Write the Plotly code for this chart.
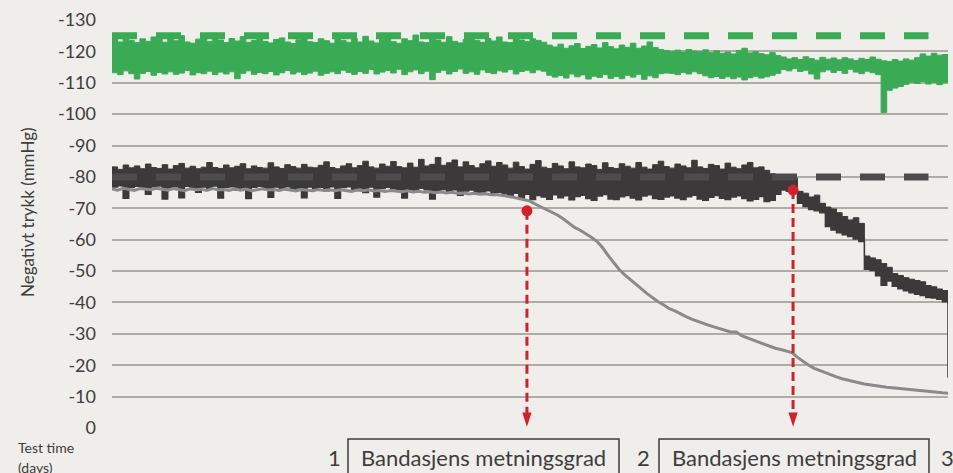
import plotly.graph_objects as go

# ---------------- data ----------------
days = [round(i * 0.02, 2) for i in range(151)]

green_top = [
    -124.5, -123.0, -124.8, -123.5, -122.8, -124.0, -123.2, -124.6, -123.8, -122.9,
    -124.2, -123.4, -125.0, -123.0, -122.6, -123.9, -124.4, -123.1, -125.8, -123.6,
    -122.8, -124.1, -123.3, -124.7, -122.9, -123.5, -124.9, -123.2, -122.7, -123.8,
    -124.3, -123.0, -122.5, -123.7, -124.6, -123.1, -122.8, -124.0, -123.4, -122.6,
    -125.0, -123.5, -122.9, -124.2, -123.0, -124.8, -123.3, -122.7, -123.9, -124.5,
    -123.1, -122.6, -124.0, -123.4, -125.2, -123.0, -122.8, -124.3, -123.6, -122.9,
    -124.7, -123.2, -122.7, -123.8, -125.3, -123.5, -122.9, -124.1, -123.3, -124.6,
    -123.0, -122.8, -124.4, -123.6, -123.1, -124.0, -123.5, -122.9, -122.0, -121.4,
    -122.3, -121.0, -121.8, -122.5, -120.9, -121.6, -122.2, -121.1, -122.8, -121.5,
    -120.8, -122.0, -121.3, -122.6, -121.0, -121.7, -123.0, -121.2, -120.6, -120.3,
    -120.0, -120.4, -119.8, -120.6, -120.1, -119.9, -120.5, -119.6, -120.2, -119.4,
    -119.8, -119.2, -120.3, -121.0, -119.5, -119.9, -119.3, -118.9, -119.6, -118.7,
    -118.2, -117.6, -118.0, -117.4, -118.3, -117.7, -117.2, -118.1, -117.5, -117.9,
    -117.3, -118.0, -117.6, -117.1, -117.8, -117.4, -118.2, -117.5, -117.0, -116.8,
    -117.4, -116.9, -117.6, -117.2, -118.0, -119.2, -118.5, -119.4, -118.8, -119.0, -118.2,
]
green_bottom = [
    -113.2, -112.6, -113.8, -112.9, -111.2, -113.0, -113.6, -112.4, -113.3, -112.8,
    -113.5, -112.7, -113.1, -113.9, -112.5, -113.2, -112.9, -113.7, -112.6, -113.4,
    -112.8, -113.5, -111.3, -113.0, -113.8, -112.7, -113.3, -112.9, -113.6, -112.5,
    -113.2, -113.9, -112.8, -113.4, -112.6, -113.1, -113.7, -112.4, -113.0, -113.5,
    -112.9, -114.0, -113.3, -112.7, -113.6, -113.0, -114.2, -112.8, -113.4, -113.9,
    -113.1, -114.3, -112.6, -113.5, -114.1, -112.9, -113.7, -111.0, -113.3, -114.0,
    -112.8, -113.6, -114.4, -113.0, -113.5, -112.7, -114.1, -113.3, -112.9, -113.8,
    -113.4, -114.2, -112.8, -113.6, -114.0, -113.2, -114.1, -113.7, -112.4, -111.8,
    -112.3, -111.5, -112.8, -111.9, -112.5, -111.2, -112.1, -111.7, -112.6, -111.4,
    -112.0, -111.3, -112.4, -111.8, -112.7, -111.1, -112.2, -111.6, -112.9, -113.1,
    -113.0, -112.6, -113.3, -112.8, -113.5, -112.9, -112.2, -111.6, -112.0, -111.4,
    -111.9, -111.3, -111.8, -110.9, -111.6, -112.1, -111.5, -111.9, -112.4, -113.0,
    -114.2, -113.8, -114.5, -113.6, -114.0, -112.8, -111.2, -113.5, -114.1, -113.3,
    -113.9, -113.0, -114.3, -113.4, -112.9, -113.7, -113.2, -112.6, -100.5, -107.6,
    -108.3, -108.8, -109.5, -110.2, -109.8, -110.4, -109.6, -110.1, -109.4, -110.0, -111.0,
]
dark_top = [
    -83.2, -82.4, -83.8, -82.9, -83.5, -82.6, -84.1, -83.0, -82.7, -83.9,
    -82.5, -83.6, -84.3, -82.8, -83.4, -82.6, -83.1, -84.6, -83.0, -82.7,
    -83.8, -82.9, -83.4, -84.2, -82.6, -83.5, -83.0, -82.8, -84.5, -83.2,
    -82.7, -83.9, -83.3, -82.8, -84.0, -83.1, -82.9, -83.7, -84.8, -83.0,
    -82.6, -83.5, -84.2, -82.9, -83.6, -85.0, -83.2, -82.8, -84.1, -83.4,
    -84.9, -83.3, -82.9, -84.4, -83.1, -85.6, -83.5, -84.0, -86.2, -83.7,
    -84.5, -85.4, -83.2, -84.8, -83.6, -82.9, -84.2, -85.1, -83.4, -84.6,
    -83.8, -82.8, -84.7, -83.3, -82.5, -84.0, -85.2, -83.1, -82.7, -84.3,
    -83.5, -82.6, -84.8, -83.2, -82.9, -84.1, -83.6, -82.4, -84.5, -83.0,
    -82.7, -84.2, -83.4, -82.8, -84.6, -83.1, -82.5, -83.9, -85.0, -83.3,
    -82.8, -84.1, -83.5, -82.9, -85.3, -83.2, -82.7, -84.0, -83.6, -82.5,
    -84.4, -83.1, -82.6, -83.8, -84.6, -82.9, -83.2, -82.1, -81.0, -80.7,
    -80.5, -80.2, -79.6, -75.4, -74.8, -73.6, -74.2, -71.6, -70.4, -69.8,
    -68.6, -67.4, -66.3, -67.0, -65.2, -54.8, -54.2, -53.6, -52.4, -51.2,
    -49.2, -48.6, -47.9, -47.4, -47.0, -46.6, -45.4, -45.0, -44.3, -43.8, -39.5,
]
dark_bottom = [
    -76.8, -77.2, -73.2, -76.6, -77.0, -76.3, -74.5, -76.9, -77.1, -73.0,
    -76.5, -76.9, -73.4, -77.0, -76.4, -75.1, -76.8, -76.2, -77.1, -73.3,
    -76.6, -76.9, -75.8, -76.3, -73.1, -76.7, -77.0, -76.1, -73.5, -76.8,
    -76.4, -76.9, -75.9, -76.5, -73.4, -76.8, -76.2, -76.7, -75.6, -76.9,
    -73.2, -76.6, -76.9, -76.1, -76.5, -75.0, -76.8, -73.6, -76.3, -76.7,
    -76.2, -75.8, -73.3, -76.1, -75.5, -76.4, -75.9, -73.0, -75.6, -76.0,
    -75.3, -75.9, -74.2, -75.5, -75.8, -74.9, -75.2, -75.6, -74.4, -75.1,
    -74.6, -73.9, -74.8, -73.2, -74.5, -72.8, -74.1, -73.6, -72.9, -74.3,
    -73.4, -74.0, -72.7, -73.8, -74.2, -73.1, -72.6, -73.9, -74.4, -73.0,
    -72.8, -73.7, -74.1, -73.3, -72.7, -73.9, -74.3, -73.1, -72.9, -73.6,
    -74.0, -73.3, -72.8, -73.7, -74.2, -73.0, -72.6, -73.5, -74.1, -73.2,
    -72.8, -73.6, -74.0, -73.1, -72.4, -72.9, -73.8, -72.2, -72.6, -74.5,
    -75.8, -75.4, -75.0, -71.6, -70.6, -69.6, -69.2, -68.6, -64.2, -63.1,
    -62.2, -61.6, -61.0, -60.2, -59.4, -50.6, -50.2, -48.5, -45.5, -46.8,
    -45.2, -44.4, -43.7, -43.1, -42.6, -42.2, -41.6, -41.4, -41.0, -40.2, -16.0,
]
grey_line = [
    -76.2, -75.8, -76.4, -76.0, -75.7, -76.3, -76.1, -75.9, -76.4, -76.0,
    -75.8, -76.3, -76.0, -75.6, -76.2, -75.9, -76.1, -75.7, -76.3, -75.9,
    -76.0, -75.7, -76.2, -75.8, -76.1, -75.6, -75.9, -76.2, -75.8, -76.0,
    -75.7, -76.1, -75.8, -75.5, -76.0, -75.8, -75.6, -76.0, -75.7, -75.9,
    -75.6, -75.9, -75.7, -75.4, -75.8, -75.6, -75.9, -75.5, -75.7, -75.4,
    -75.7, -75.5, -75.3, -75.6, -75.2, -75.4, -75.1, -75.3, -75.0, -75.2,
    -74.9, -75.1, -74.8, -74.9, -74.6, -74.8, -74.5, -74.6, -74.3, -74.4,
    -74.0, -73.8, -73.5, -73.1, -72.8, -72.3, -71.3, -70.4, -69.6, -68.7,
    -67.8, -66.6, -65.2, -63.9, -63.0, -62.0, -60.8, -59.5, -57.5, -55.0,
    -52.8, -50.5, -48.8, -47.2, -45.8, -44.3, -42.8, -41.4, -40.2, -39.2,
    -38.0, -37.3, -36.3, -35.5, -34.7, -34.0, -33.4, -32.8, -32.2, -31.6,
    -31.0, -30.6, -30.6, -29.4, -28.7, -28.0, -27.3, -26.6, -26.0, -25.4,
    -25.0, -24.5, -24.0, -22.5, -21.2, -20.0, -19.0, -18.3, -17.5, -16.9,
    -16.3, -15.7, -15.2, -14.8, -14.4, -14.0, -13.7, -13.4, -13.2, -13.0,
    -12.8, -12.6, -12.4, -12.2, -12.0, -11.8, -11.6, -11.5, -11.3, -11.2, -11.1,
]

target_green = -125
target_dark = -80
target_days = [0.0, 2.93]

saturation_days = [1.489, 2.444]
saturation_values = [-69.2, -75.8]
arrow_tip = -0.4

y_ticks = [-130, -120, -110, -100, -90, -80, -70, -60, -50, -40, -30, -20, -10, 0]
y_ticktext = ["-130", "-120", "-110", "-100", "-90", "-80", "-70", "-60",
              "-50", "-40", "-30", "-20", "-10", "0"]
day_labels = ["1", "2", "3"]
box_label = "Bandasjens metningsgrad"

# ---------------- styling ----------------
GREEN = "#3aab55"
DARK = "#3b393a"
DARK_DASH = "#4d4c4d"
GREY = "#8a8a8a"
RED = "#d4202a"
BG = "#f0eeea"
TEXT = "#3d3d3d"
FONT = "Lato, 'Noto Sans', sans-serif"

W, H = 953, 473
L, R, T, B = 112, 5, 20, 45
PW, PH = W - L - R, H - T - B


def px_x(p):
    # page pixel -> paper coordinate
    return (p - L) / PW


def px_y(p):
    return (H - B - p) / PH


fig = go.Figure()

# green band
fig.add_trace(go.Scatter(x=days, y=green_top, mode="lines", line_shape="hv",
                         line=dict(color=GREEN, width=1), hoverinfo="skip"))
fig.add_trace(go.Scatter(x=days, y=green_bottom, mode="lines", fill="tonexty", line_shape="hv",
                         fillcolor=GREEN, line=dict(color=GREEN, width=1), hoverinfo="skip"))
fig.add_trace(go.Scatter(x=target_days, y=[target_green, target_green], mode="lines",
                         line=dict(color=GREEN, width=7, dash="25px,19px"), hoverinfo="skip"))

# dark band
fig.add_trace(go.Scatter(x=days, y=dark_top, mode="lines", line_shape="hv",
                         line=dict(color=DARK, width=1), hoverinfo="skip"))
fig.add_trace(go.Scatter(x=days, y=dark_bottom, mode="lines", fill="tonexty", line_shape="hv",
                         fillcolor=DARK, line=dict(color=DARK, width=1.5), hoverinfo="skip"))

# grey line
fig.add_trace(go.Scatter(x=days, y=grey_line, mode="lines",
                         line=dict(color=GREY, width=3), hoverinfo="skip"))

# dark target dashed
fig.add_trace(go.Scatter(x=target_days, y=[target_dark, target_dark], mode="lines",
                         line=dict(color=DARK_DASH, width=7, dash="25px,19px"), hoverinfo="skip"))

# red dashed arrows
for d, v in zip(saturation_days, saturation_values):
    fig.add_trace(go.Scatter(x=[d, d], y=[v, arrow_tip - 4], mode="lines",
                             line=dict(color=RED, width=3, dash="9px,5px"), hoverinfo="skip"))
    fig.add_trace(go.Scatter(x=[d], y=[arrow_tip], mode="markers",
                             marker=dict(symbol="arrow", angle=180, size=15, color=RED,
                                         line=dict(width=0)), hoverinfo="skip"))

fig.add_trace(go.Scatter(x=saturation_days, y=saturation_values, mode="markers",
                         marker=dict(symbol="circle", size=11, color=RED, line=dict(width=0)),
                         hoverinfo="skip"))

annotations = [
    dict(text="Negativt trykk (mmHg)", x=px_x(27), y=px_y(212), textangle=-90,
         font=dict(size=17, color=TEXT)),
    dict(text="Test time", x=px_x(16), y=px_y(447), xanchor="left",
         font=dict(size=14, color=TEXT)),
    dict(text="(days)", x=px_x(16), y=px_y(467), xanchor="left",
         font=dict(size=14, color=TEXT)),
]
for lab, xp in zip(day_labels, [334, 643, 947]):
    annotations.append(dict(text=lab, x=px_x(xp), y=px_y(457), font=dict(size=22, color=TEXT)))
for xc in [483.5, 794]:
    annotations.append(dict(text=box_label, x=px_x(xc), y=px_y(457), font=dict(size=22, color=TEXT)))
for a in annotations:
    a.update(xref="paper", yref="paper", showarrow=False)
    a.setdefault("xanchor", "center")
    a.setdefault("yanchor", "middle")

shapes = []
for x0, x1 in [(348, 619), (659, 929)]:
    shapes.append(dict(type="rect", xref="paper", yref="paper",
                       x0=px_x(x0), x1=px_x(x1), y0=px_y(439), y1=px_y(490),
                       line=dict(color=TEXT, width=1.5), fillcolor="rgba(0,0,0,0)"))

fig.update_layout(
    width=W, height=H,
    margin=dict(l=L, r=R, t=T, b=B),
    paper_bgcolor=BG, plot_bgcolor=BG,
    showlegend=False, hovermode=False,
    font=dict(family=FONT, color=TEXT),
    annotations=annotations, shapes=shapes,
    xaxis=dict(range=[0, 3], showgrid=False, zeroline=False, showticklabels=False,
               showline=False, fixedrange=True),
    yaxis=dict(range=[0, -130], tickvals=y_ticks, ticktext=y_ticktext,
               showgrid=True, gridcolor="#afaca8", gridwidth=1.5, zeroline=False,
               showline=False, ticks="", ticklabelstandoff=15,
               tickfont=dict(size=18, color=TEXT), fixedrange=True),
)

# remove the default page margin so the figure fills the window exactly
page_css = ("document.body.style.margin='0';"
            "document.body.style.overflow='hidden';"
            "document.body.style.background='%s';" % BG)

fig.write_html("out.html", config={"displayModeBar": False}, post_script=page_css)
